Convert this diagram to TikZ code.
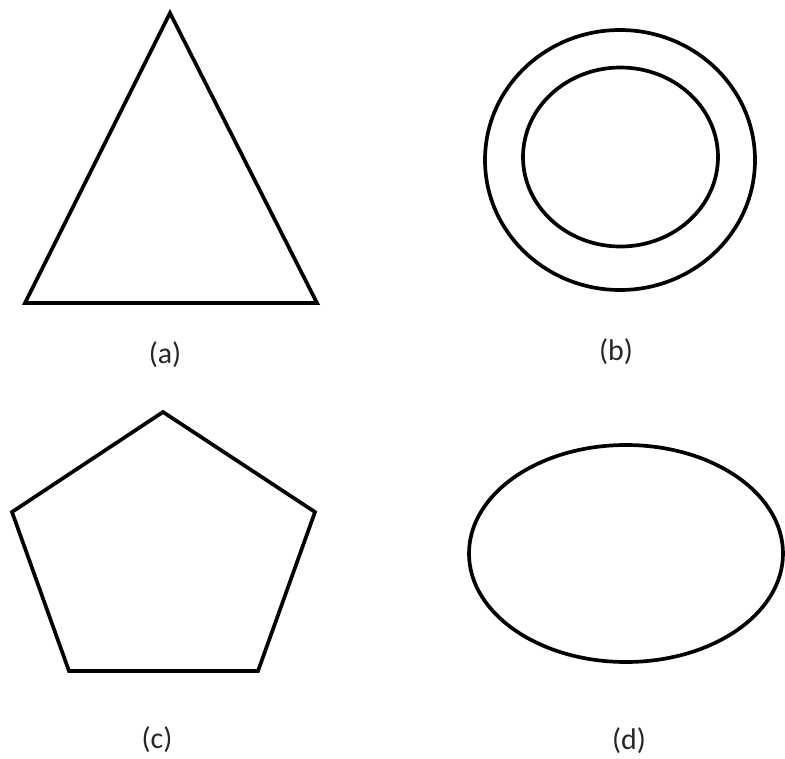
\documentclass[tikz,border=0pt]{standalone}
\usepackage{fontspec}
\setmainfont{Carlito}
\usepackage{tikz}
\tikzset{
  shapeline/.style={draw=black, line width=2.1pt, line join=miter},
  caplabel/.style={font=\fontsize{17}{19}\selectfont, inner sep=0pt, text=black!85}
}

\begin{document}
\begin{tikzpicture}[x=0.02cm, y=-0.02cm]
      \useasboundingbox (0,0) rectangle (785,758);
      % (a) triangle
      \draw[shapeline] (170,13) -- (317,303) -- (25,303) -- cycle;
      \node[caplabel] (lbla) at (165,355) {(a)};
      % (b) two rings
      \draw[shapeline] (620,160) ellipse [x radius=135, y radius=130];
      \draw[shapeline] (620.5,157) ellipse [x radius=97.5, y radius=89.5];
      \node[caplabel] (lblb) at (616,352) {(b)};
      % (c) pentagon
      \draw[shapeline] (163,412) -- (315,512) -- (258,671) -- (69,671) -- (12,512) -- cycle;
      \node[caplabel] (lblc) at (157,740) {(c)};
      % (d) ellipse
      \draw[shapeline] (626,553.5) ellipse [x radius=157, y radius=108.5];
      \node[caplabel] (lbld) at (629,741) {(d)};
    \end{tikzpicture}
\end{document}
